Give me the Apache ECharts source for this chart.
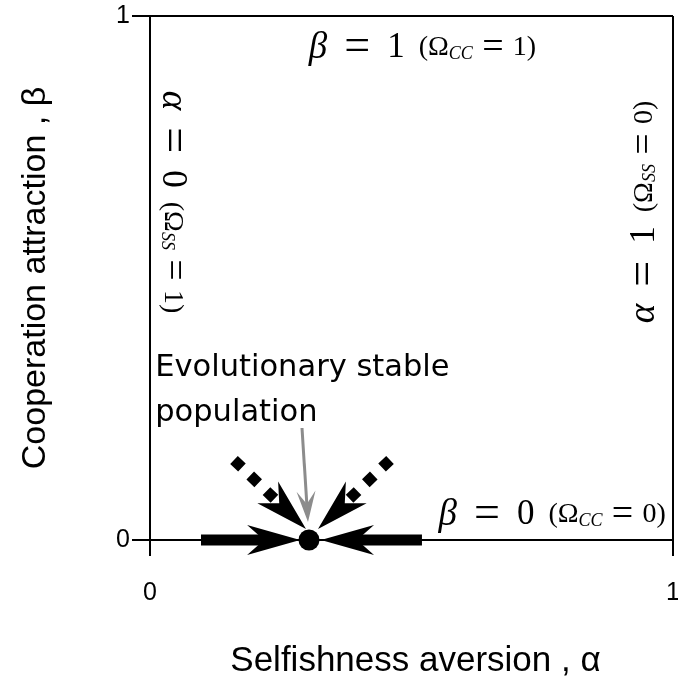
<!DOCTYPE html>
<html><head><meta charset="utf-8">
<script src="https://cdn.jsdelivr.net/npm/echarts@6/dist/echarts.min.js"></script>
<style>html,body{margin:0;padding:0;background:#fff}#c{width:678px;height:684px}</style>
</head><body><div id="c"></div>
<script>
// ---- data ----
const xTicks = [0, 1];
const yTicks = [0, 1];
const xName = 'Selfishness aversion , α';
const yName = 'Cooperation attraction , β';
const stablePoint = [[0.304, 0]];
// arrows: [startAlpha, startBeta, tipAlpha, tipBeta]
const solidArrows = [[0.0975, 0, 0.287, 0], [0.520, 0, 0.327, 0]];
const dottedArrows = [[0.1606, 0.1527, 0.2983, 0.021], [0.4589, 0.1527, 0.3212, 0.021]];
const pointerArrow = [[0.2906, 0.2137, 0.3021, 0.0344]];
// annotation anchors [alpha, beta]
const labelPositions = [[0.521, 0.939], [0.769, 0.048], [0.043, 0.645], [0.946, 0.626], [0.01, 0.286]];
const labelTexts = [
  '{m|β}{eq|=}{r|1}{g| }{p|(Ω}{s|CC}{pe|=}{p|1)}',
  '{m|β}{eq|=}{r|0}{g| }{p|(Ω}{s|CC}{pe|=}{p|0)}',
  '{m|α}{eq|=}{r|0}{g| }{p|(Ω}{s|SS}{pe|=}{p|1)}',
  '{m|α}{eq|=}{r|1}{g| }{p|(Ω}{s|SS}{pe|=}{p|0)}',
  '{t|Evolutionary stable}\n{t|population}'
];
const labelRotations = [0, 0, -90, 90, 0];
const labelAligns = ['center', 'center', 'center', 'center', 'left'];

const chart = echarts.init(document.getElementById('c'));
const serif = 'Liberation Serif';
const rich = {
  m: {fontFamily: serif, fontStyle: 'italic', fontSize: 37, color: '#000'},
  r: {fontFamily: serif, fontSize: 35, color: '#000'},
  eq: {fontFamily: serif, fontSize: 46, color: '#000', width: 60, align: 'center'},
  g: {fontFamily: serif, fontSize: 30, width: 14},
  p: {fontFamily: serif, fontSize: 28, color: '#000'},
  pe: {fontFamily: serif, fontSize: 38, color: '#000', width: 40, align: 'center'},
  s: {fontFamily: serif, fontStyle: 'italic', fontSize: 18, color: '#000', padding: [12, 0, 0, 0]},
  t: {fontFamily: 'DejaVu Sans', fontSize: 30.5, lineHeight: 45, color: '#000'}
};

function arrowRenderer(o) {
  return function (params, api) {
    const p0 = api.coord([api.value(0), api.value(1)]);
    const p1 = api.coord([api.value(2), api.value(3)]);
    const dx = p1[0] - p0[0], dy = p1[1] - p0[1];
    const len = Math.hypot(dx, dy);
    const ux = dx / len, uy = dy / len, nx = -uy, ny = ux;
    const L = o.headLength, W = o.headWidth / 2, N = o.notch * L;
    const bx = p1[0] - ux * L, by = p1[1] - uy * L;
    const notch = [p1[0] - ux * N, p1[1] - uy * N];
    const head = [p1, [bx + nx * W, by + ny * W], notch, [bx - nx * W, by - ny * W]];
    return {
      type: 'group',
      children: [
        {type: 'line', shape: {x1: p0[0], y1: p0[1], x2: notch[0], y2: notch[1]},
          style: {stroke: o.color, lineWidth: o.shaftWidth, lineDash: o.dash || null, lineCap: 'butt', fill: null}},
        {type: 'polygon', shape: {points: head}, style: {fill: o.color}}
      ]
    };
  };
}

const axisCommon = {
  type: 'value', min: 0, max: 1, interval: 1,
  axisLine: {show: true, onZero: false, lineStyle: {color: '#000', width: 2}},
  splitLine: {show: true, lineStyle: {color: '#000', width: 2}},
  nameLocation: 'middle'
};

chart.setOption({
  animation: false,
  backgroundColor: '#fff',
  grid: {left: 150, right: 5, top: 16, bottom: 144, outerBoundsMode: 'none', containLabel: false},
  xAxis: Object.assign({}, axisCommon, {
    name: xName, nameGap: 104,
    nameTextStyle: {fontFamily: 'Liberation Sans', fontSize: 35, color: '#000', padding: [0, 0, 0, 8]},
    axisTick: {show: true, length: 16, lineStyle: {color: '#000', width: 2}},
    axisLabel: {margin: 41, fontSize: 25, color: '#000', fontFamily: 'Liberation Sans',
      formatter: v => xTicks.includes(v) ? String(v) : ''}
  }),
  yAxis: Object.assign({}, axisCommon, {
    name: yName, nameGap: 97,
    nameTextStyle: {fontFamily: 'Liberation Sans', fontSize: 34, color: '#000'},
    axisTick: {show: true, length: 18, lineStyle: {color: '#000', width: 2}},
    axisLabel: {margin: 20, fontSize: 25, color: '#000', fontFamily: 'Liberation Sans',
      formatter: v => yTicks.includes(v) ? String(v) : ''}
  }),
  series: [
    {type: 'custom', coordinateSystem: 'cartesian2d', clip: false, z: 5, data: solidArrows,
      renderItem: arrowRenderer({color: '#000', shaftWidth: 11, headLength: 53, headWidth: 30, notch: 0.68})},
    {type: 'custom', coordinateSystem: 'cartesian2d', clip: false, z: 5, data: dottedArrows,
      renderItem: arrowRenderer({color: '#000', shaftWidth: 11, dash: [11, 11.5], headLength: 53, headWidth: 30, notch: 0.7})},
    {type: 'custom', coordinateSystem: 'cartesian2d', clip: false, z: 5, data: pointerArrow,
      renderItem: arrowRenderer({color: '#8c8c8c', shaftWidth: 3, headLength: 31, headWidth: 19, notch: 0.58})},
    {type: 'scatter', z: 6, symbolSize: 21, itemStyle: {color: '#000', opacity: 1}, data: stablePoint},
    {type: 'scatter', z: 7, symbolSize: 1, itemStyle: {color: 'transparent', opacity: 1}, silent: true,
      data: labelPositions.map((p, i) => ({
        value: p,
        label: {show: true, position: 'inside', formatter: labelTexts[i], rotate: labelRotations[i],
          align: labelAligns[i], verticalAlign: 'middle', color: '#000', opacity: 1, textBorderWidth: 0, rich: rich}
      }))}
  ]
});
</script></body></html>
